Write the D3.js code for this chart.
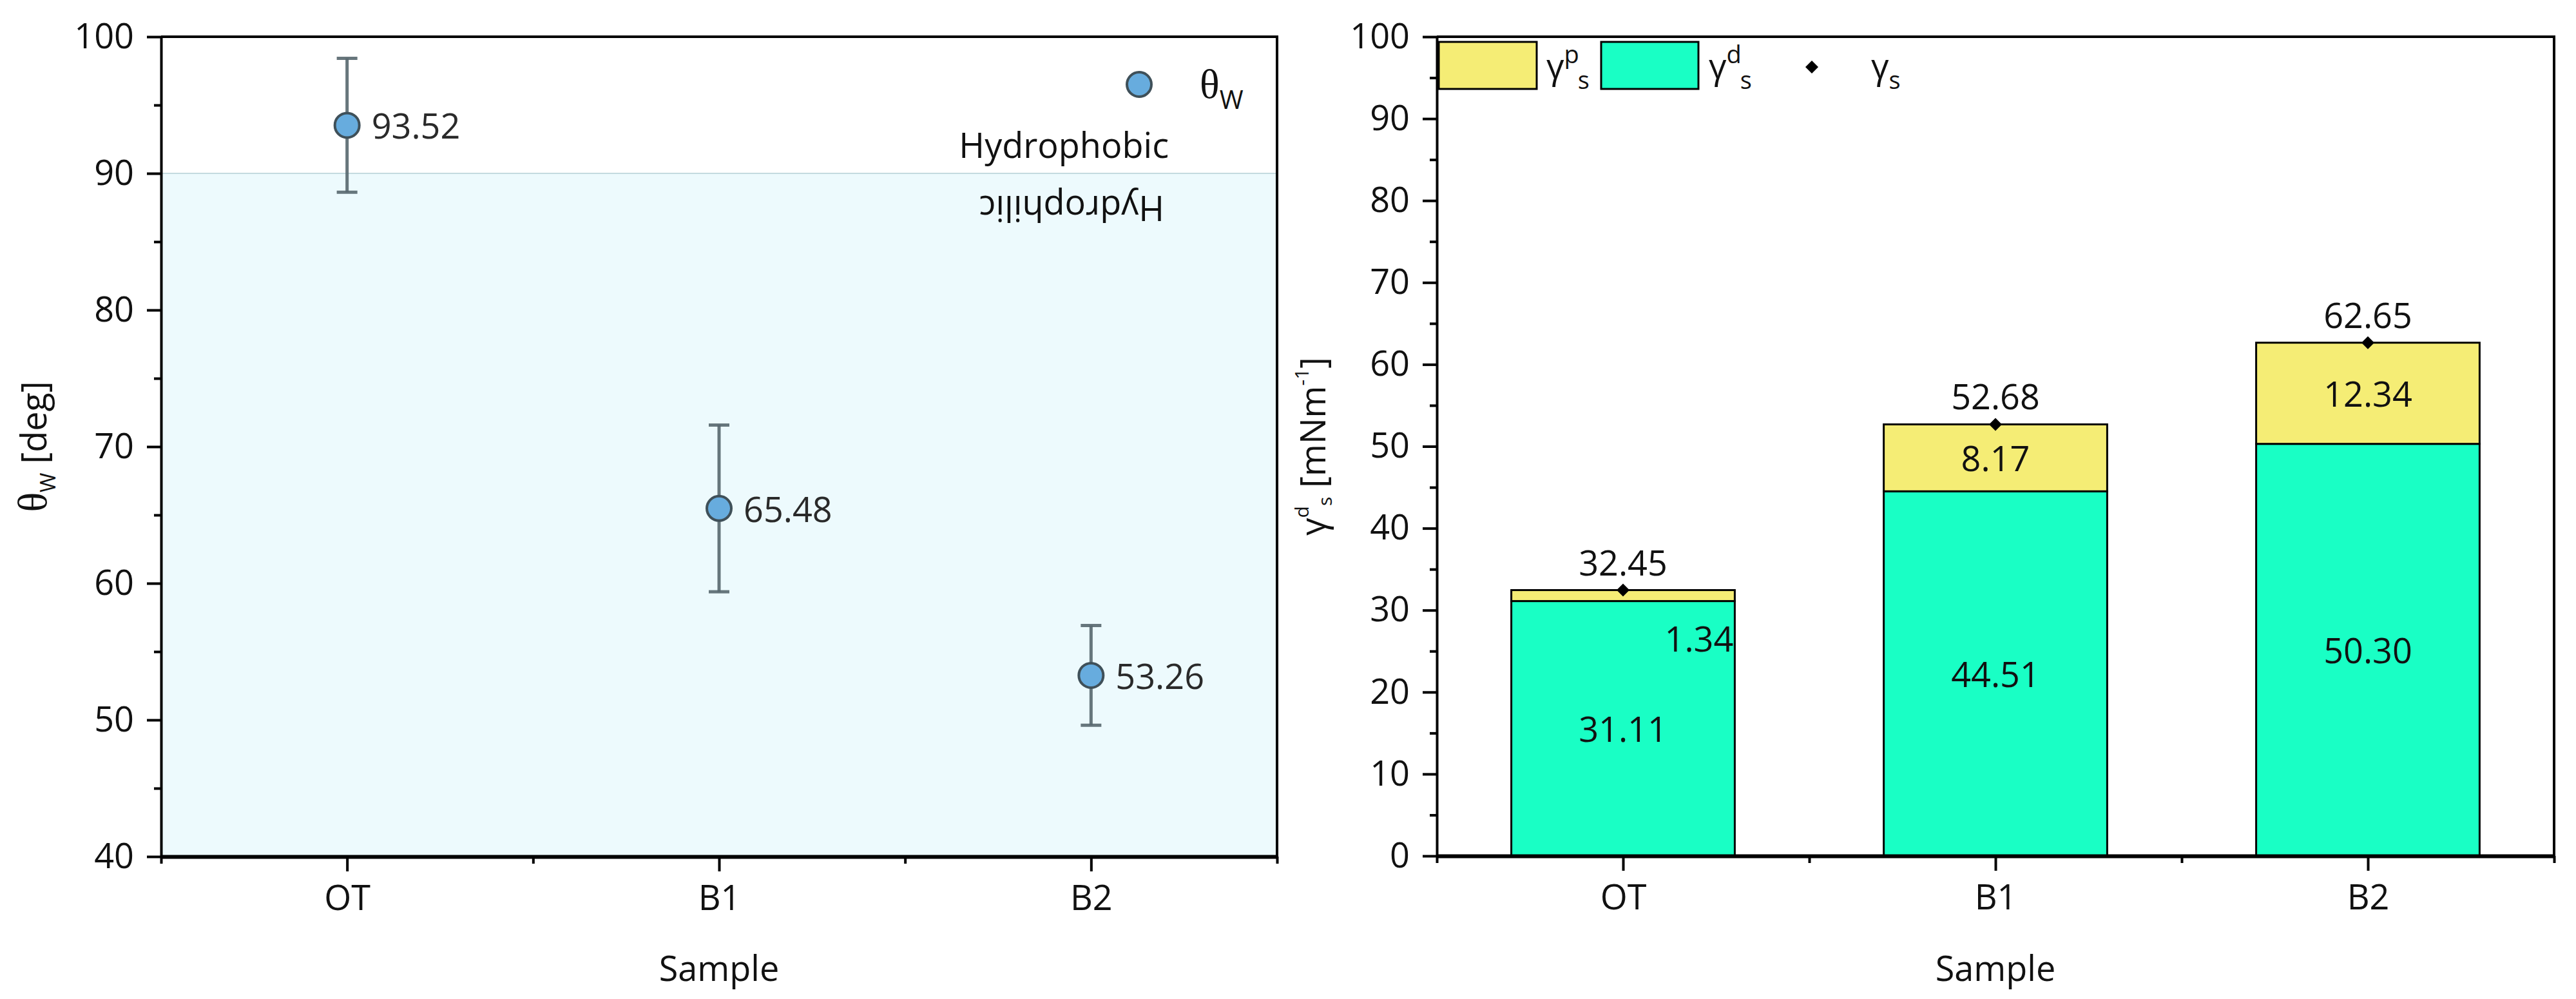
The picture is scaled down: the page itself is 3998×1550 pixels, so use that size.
<!DOCTYPE html>
<html><head><meta charset="utf-8">
<script src="https://cdn.jsdelivr.net/npm/d3@7"></script>
<style>body{margin:0;background:#fff}</style>
</head><body>
<svg id="c" width="3998" height="1550" xmlns="http://www.w3.org/2000/svg"></svg>
<script>
// ---------- data ----------
const samples = ["OT", "B1", "B2"];
const thetaW = [93.52, 65.48, 53.26];
const thetaErr = [4.9, 6.1, 3.65];
const gammaD = [31.11, 44.51, 50.30];
const gammaP = [1.34, 8.17, 12.34];
const gammaS = [32.45, 52.68, 62.65];
const thetaTicks = [40, 50, 60, 70, 80, 90, 100];
const thetaMinor = [45, 55, 65, 75, 85, 95];
const gammaTicks = [0, 10, 20, 30, 40, 50, 60, 70, 80, 90, 100];
const gammaMinor = [5, 15, 25, 35, 45, 55, 65, 75, 85, 95];
const hydroLimit = 90;
const xMajor = [1, 2, 3];
const xMinor = [0.5, 1.5, 2.5, 3.5];

// ---------- setup ----------
const FONT = "'Open Sans', 'Noto Sans', sans-serif";
const SERIF = "'Liberation Serif', 'DejaVu Serif', serif";
const svg = d3.select("#c");
svg.append("rect").attr("width", 3998).attr("height", 1550).attr("fill", "#fff");

function styleAxis(g, domainW) {
  g.attr("font-family", FONT).attr("font-size", 54);
  g.select(".domain").attr("stroke", "#000").attr("stroke-width", domainW);
  g.selectAll(".tick line").attr("stroke", "#000").attr("stroke-width", 4);
  g.selectAll(".tick text").attr("fill", "#111");
}

// ================= LEFT CHART =================
const L = {x0: 250, x1: 1982, y0: 57, y1: 1329};
const xL = d3.scaleLinear().domain([0.5, 3.5]).range([L.x0, L.x1]);
const yL = d3.scaleLinear().domain([40, 100]).range([L.y1, L.y0]);
const gl = svg.append("g");

// hydrophilic shading
gl.append("rect")
  .attr("x", L.x0).attr("width", L.x1 - L.x0)
  .attr("y", yL(hydroLimit)).attr("height", yL(40) - yL(hydroLimit))
  .attr("fill", "#edfafd");
gl.append("line")
  .attr("x1", L.x0).attr("x2", L.x1)
  .attr("y1", yL(hydroLimit)).attr("y2", yL(hydroLimit))
  .attr("stroke", "#c4dadf").attr("stroke-width", 2);

// frame top/right
gl.append("path")
  .attr("d", `M${L.x0},${L.y0}H${L.x1}V${L.y1}`)
  .attr("fill", "none").attr("stroke", "#000").attr("stroke-width", 4);

// y axis
const gyL = gl.append("g").attr("transform", `translate(${L.x0},0)`)
  .call(d3.axisLeft(yL).tickValues(thetaTicks).tickSize(22).tickSizeOuter(0).tickPadding(20).tickFormat(d3.format("d")));
styleAxis(gyL, 4);
const gyLm = gl.append("g").attr("transform", `translate(${L.x0},0)`)
  .call(d3.axisLeft(yL).tickValues(thetaMinor).tickSize(11).tickSizeOuter(0).tickFormat(""));
styleAxis(gyLm, 0); gyLm.select(".domain").remove();

// x axis
const gxL = gl.append("g").attr("transform", `translate(0,${L.y1})`)
  .call(d3.axisBottom(xL).tickValues(xMajor).tickSize(23).tickSizeOuter(0).tickPadding(22).tickFormat(d => samples[d - 1]));
styleAxis(gxL, 6);
const gxLm = gl.append("g").attr("transform", `translate(0,${L.y1})`)
  .call(d3.axisBottom(xL).tickValues(xMinor).tickSize(11).tickSizeOuter(0).tickFormat(""));
styleAxis(gxLm, 0); gxLm.select(".domain").remove();

// axis titles
gl.append("text")
  .attr("x", (L.x0 + L.x1) / 2).attr("y", 1522)
  .attr("text-anchor", "middle").attr("font-family", FONT).attr("font-size", 54).attr("fill", "#111")
  .text("Sample");
const tL = gl.append("text")
  .attr("transform", `translate(72,${(L.y0 + L.y1) / 2}) rotate(-90)`)
  .attr("text-anchor", "middle").attr("font-family", FONT).attr("font-size", 54).attr("fill", "#111");
tL.append("tspan").attr("font-family", SERIF).attr("font-size", 64).text("θ");
tL.append("tspan").attr("font-size", 33).attr("dy", 14).text("W");
tL.append("tspan").attr("dy", -14).text("\u00a0[deg]");

// hydrophobic / hydrophilic labels
gl.append("text")
  .attr("x", 1814).attr("y", yL(hydroLimit) - 24)
  .attr("text-anchor", "end").attr("font-family", FONT).attr("font-size", 54).attr("fill", "#111")
  .text("Hydrophobic");
gl.append("text")
  .attr("transform", `translate(1807,${yL(hydroLimit) + 35}) rotate(180)`)
  .attr("text-anchor", "start").attr("font-family", FONT).attr("font-size", 54).attr("fill", "#111")
  .text("Hydrophilic");

// error bars
const errG = gl.append("g").attr("stroke", "#56676e").attr("stroke-width", 5).attr("stroke-opacity", 0.9);
thetaW.forEach((v, i) => {
  const cx = xL(i + 1);
  errG.append("line").attr("x1", cx).attr("x2", cx).attr("y1", yL(v - thetaErr[i])).attr("y2", yL(v + thetaErr[i]));
  errG.append("line").attr("x1", cx - 16).attr("x2", cx + 16).attr("y1", yL(v - thetaErr[i])).attr("y2", yL(v - thetaErr[i]));
  errG.append("line").attr("x1", cx - 16).attr("x2", cx + 16).attr("y1", yL(v + thetaErr[i])).attr("y2", yL(v + thetaErr[i]));
});
// points
gl.selectAll("circle.pt").data(thetaW).join("circle").attr("class", "pt")
  .attr("cx", (d, i) => xL(i + 1)).attr("cy", d => yL(d)).attr("r", 19)
  .attr("fill", "#67acde").attr("stroke", "#3f5059").attr("stroke-width", 4);
gl.selectAll("text.val").data(thetaW).join("text").attr("class", "val")
  .attr("x", (d, i) => xL(i + 1) + 38).attr("y", d => yL(d))
  .attr("dominant-baseline", "central")
  .attr("font-family", FONT).attr("font-size", 54).attr("fill", "#2a2a2a")
  .text(d => d.toFixed(2));

// legend
gl.append("circle").attr("cx", 1768).attr("cy", 131).attr("r", 19)
  .attr("fill", "#67acde").attr("stroke", "#3f5059").attr("stroke-width", 4);
const lgL = gl.append("text").attr("x", 1862).attr("y", 152)
  .attr("font-family", FONT).attr("font-size", 54).attr("fill", "#111");
lgL.append("tspan").attr("font-family", SERIF).attr("font-size", 64).text("θ");
lgL.append("tspan").attr("font-size", 40).attr("dy", 17).text("W");

// ================= RIGHT CHART =================
const R = {x0: 2230, x1: 3964, y0: 57, y1: 1328};
const xR = d3.scaleLinear().domain([0.5, 3.5]).range([R.x0, R.x1]);
const yR = d3.scaleLinear().domain([0, 100]).range([R.y1, R.y0]);
const gr = svg.append("g");
const barHalf = 0.3;
const colP = "#f5ed75", colD = "#19ffc5";

// bars
samples.forEach((s, i) => {
  const bx = xR(i + 1 - barHalf), bw = xR(i + 1 + barHalf) - bx;
  gr.append("rect").attr("x", bx).attr("width", bw)
    .attr("y", yR(gammaD[i])).attr("height", yR(0) - yR(gammaD[i]))
    .attr("fill", colD).attr("stroke", "#000").attr("stroke-width", 3);
  gr.append("rect").attr("x", bx).attr("width", bw)
    .attr("y", yR(gammaS[i])).attr("height", yR(gammaD[i]) - yR(gammaS[i]))
    .attr("fill", colP).attr("stroke", "#000").attr("stroke-width", 3);
});

// frame top/right
gr.append("path")
  .attr("d", `M${R.x0},${R.y0}H${R.x1}V${R.y1}`)
  .attr("fill", "none").attr("stroke", "#000").attr("stroke-width", 4);

// axes
const gyR = gr.append("g").attr("transform", `translate(${R.x0},0)`)
  .call(d3.axisLeft(yR).tickValues(gammaTicks).tickSize(22).tickSizeOuter(0).tickPadding(20).tickFormat(d3.format("d")));
styleAxis(gyR, 4);
const gyRm = gr.append("g").attr("transform", `translate(${R.x0},0)`)
  .call(d3.axisLeft(yR).tickValues(gammaMinor).tickSize(11).tickSizeOuter(0).tickFormat(""));
styleAxis(gyRm, 0); gyRm.select(".domain").remove();
const gxR = gr.append("g").attr("transform", `translate(0,${R.y1})`)
  .call(d3.axisBottom(xR).tickValues(xMajor).tickSize(23).tickSizeOuter(0).tickPadding(22).tickFormat(d => samples[d - 1]));
styleAxis(gxR, 6);
const gxRm = gr.append("g").attr("transform", `translate(0,${R.y1})`)
  .call(d3.axisBottom(xR).tickValues(xMinor).tickSize(11).tickSizeOuter(0).tickFormat(""));
styleAxis(gxRm, 0); gxRm.select(".domain").remove();

// titles
gr.append("text")
  .attr("x", (R.x0 + R.x1) / 2).attr("y", 1522)
  .attr("text-anchor", "middle").attr("font-family", FONT).attr("font-size", 54).attr("fill", "#111")
  .text("Sample");
const tR = gr.append("text")
  .attr("transform", `translate(2057,${(R.y0 + R.y1) / 2}) rotate(-90)`)
  .attr("text-anchor", "middle").attr("font-family", FONT).attr("font-size", 54).attr("fill", "#111");
tR.append("tspan").text("γ");
tR.append("tspan").attr("font-size", 30).attr("dy", -26).text("d");
tR.append("tspan").attr("font-size", 30).attr("dy", 36).text("s");
tR.append("tspan").attr("dy", -10).text("\u00a0[mNm");
tR.append("tspan").attr("font-size", 30).attr("dy", -26).text("-1");
tR.append("tspan").attr("dy", 26).text("]");

// diamonds (total)
gr.selectAll("path.dia").data(gammaS).join("path").attr("class", "dia")
  .attr("d", d3.symbol(d3.symbolSquare, 200))
  .attr("transform", (d, i) => `translate(${xR(i + 1)},${yR(d)}) rotate(45)`)
  .attr("fill", "#000");

// value labels
const lab = (x, y, t, anchor) => gr.append("text").attr("x", x).attr("y", y)
  .attr("text-anchor", anchor || "middle").attr("dominant-baseline", "central")
  .attr("font-family", FONT).attr("font-size", 54).attr("fill", "#111").text(t);
samples.forEach((s, i) => {
  const cx = xR(i + 1);
  lab(cx, yR(gammaS[i]) - 44, gammaS[i].toFixed(2));
  lab(cx, yR(gammaD[i] / 2), gammaD[i].toFixed(2));
  const segH = yR(gammaD[i]) - yR(gammaS[i]);
  if (segH > 60) lab(cx, yR(gammaD[i] + gammaP[i] / 2), gammaP[i].toFixed(2));
  else lab(xR(i + 1 + barHalf) - 2, yR(gammaD[i]) + 57, gammaP[i].toFixed(2), "end");
});

// legend
const lg = gr.append("g").attr("font-family", FONT).attr("fill", "#111");
lg.append("rect").attr("x", 2233).attr("y", 65).attr("width", 152).attr("height", 73)
  .attr("fill", colP).attr("stroke", "#000").attr("stroke-width", 3);
lg.append("rect").attr("x", 2485).attr("y", 65).attr("width", 151).attr("height", 73)
  .attr("fill", colD).attr("stroke", "#000").attr("stroke-width", 3);
function gl3(x, sup) {
  const t = lg.append("text").attr("x", x).attr("y", 122).attr("font-size", 54);
  t.append("tspan").text("γ");
  if (sup) {
    t.append("tspan").attr("font-size", 38).attr("dy", -24).text(sup);
    t.append("tspan").attr("font-size", 38).attr("dx", -2).attr("dy", 40).text("s");
  } else {
    t.append("tspan").attr("font-size", 38).attr("dy", 16).text("s");
  }
}
gl3(2400, "p");
gl3(2652, "d");
lg.append("path").attr("d", d3.symbol(d3.symbolSquare, 200))
  .attr("transform", "translate(2812,104) rotate(45)").attr("fill", "#000");
gl3(2904, null);
</script>
</body></html>
